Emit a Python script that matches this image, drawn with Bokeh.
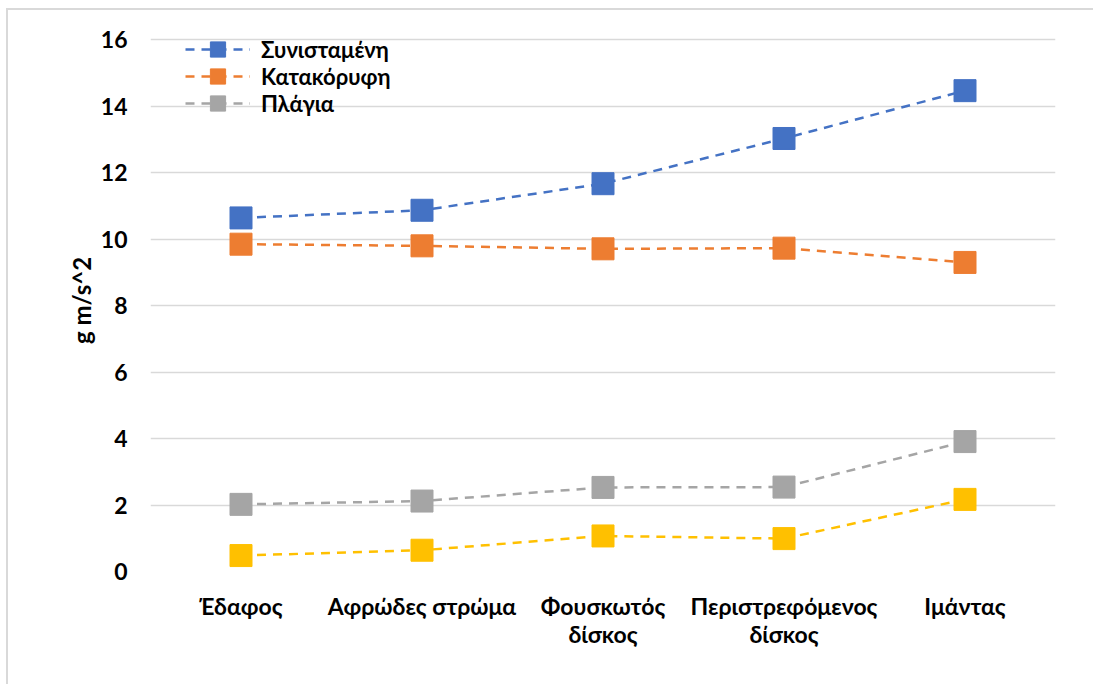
from bokeh.plotting import figure
from bokeh.models import FactorRange, Range1d, Legend, LegendItem, ColumnDataSource
from bokeh.embed import file_html
from bokeh.resources import INLINE

# Surfaces and measured acceleration components (m/s^2)
surfaces = ["Έδαφος", "Αφρώδες στρώμα", "Φουσκωτός\nδίσκος", "Περιστρεφόμενος\nδίσκος", "Ιμάντας"]
resultant = [10.64, 10.87, 11.67, 13.03, 14.47]
vertical = [9.85, 9.80, 9.71, 9.73, 9.30]
lateral = [2.02, 2.12, 2.53, 2.54, 3.91]
fourth = [0.48, 0.64, 1.07, 0.99, 2.17]

series_names = ["Συνισταμένη", "Κατακόρυφη", "Πλάγια", None]
series_colors = ["#4472C4", "#ED7D31", "#A5A5A5", "#FFC000"]
y_ticks = [0, 2, 4, 6, 8, 10, 12, 14, 16]

FONT = "Lato, 'Open Sans', sans-serif"

# a little head room above the top gridline so the legend is not clipped
p = figure(
    x_range=FactorRange(*surfaces, range_padding=0),
    y_range=Range1d(0, 16.31),
    width=1087, height=676,
    output_backend="svg", toolbar_location=None,
    min_border_left=142, min_border_right=40,
    min_border_top=19, min_border_bottom=115,
)
p.styles = {
    "margin-left": "6px", "margin-top": "8px",
    "border-left": "2px solid #D9D9D9", "border-top": "2px solid #D9D9D9",
}
p.outline_line_color = None
p.background_fill_color = "white"
p.border_fill_color = "white"

p.xgrid.grid_line_color = None
p.ygrid.grid_line_color = "#D9D9D9"
p.ygrid.grid_line_width = 1.5
p.yaxis.ticker = y_ticks

for ax in (p.xaxis, p.yaxis):
    ax.axis_line_color = None
    ax.major_tick_line_color = None
    ax.minor_tick_line_color = None
    ax.major_label_text_font = FONT
    ax.major_label_text_font_style = "bold"
    ax.major_label_text_font_size = "23px"
    ax.major_label_text_color = "black"

p.xaxis.major_label_standoff = 14
p.xaxis.major_label_text_line_height = 1.0
p.yaxis.major_label_standoff = 17
p.yaxis.axis_label = "g m/s^2"
p.yaxis.axis_label_text_font = FONT
p.yaxis.axis_label_text_font_style = "bold"
p.yaxis.axis_label_text_font_size = "24px"
p.yaxis.axis_label_text_color = "black"
p.yaxis.axis_label_standoff = 2

legend_rows = []
for vals, name, color in zip([resultant, vertical, lateral, fourth], series_names, series_colors):
    src = ColumnDataSource(dict(x=surfaces, y=vals))
    ln = p.line("x", "y", source=src, line_color=color, line_width=2.5, line_dash="9 7")
    mk = p.scatter("x", "y", source=src, marker="square", size=22,
                   fill_color=color, line_color=color, line_width=1)
    if name is not None:
        legend_rows.append(LegendItem(label=name, renderers=[ln, mk]))

# one single-row legend per series so the rows can sit closer than the glyph box
for i, item in enumerate(legend_rows):
    legend = Legend(
        items=[item],
        location=(35, 503 - 27 * i),
        glyph_width=65, glyph_height=38,
        spacing=0, padding=0, margin=0,
        label_standoff=11,
        label_text_font=FONT, label_text_font_style="bold",
        label_text_font_size="22px", label_text_color="black",
        background_fill_alpha=0, border_line_color=None,
    )
    p.add_layout(legend, "center")

open("out.html", "w").write(file_html(p, INLINE))
